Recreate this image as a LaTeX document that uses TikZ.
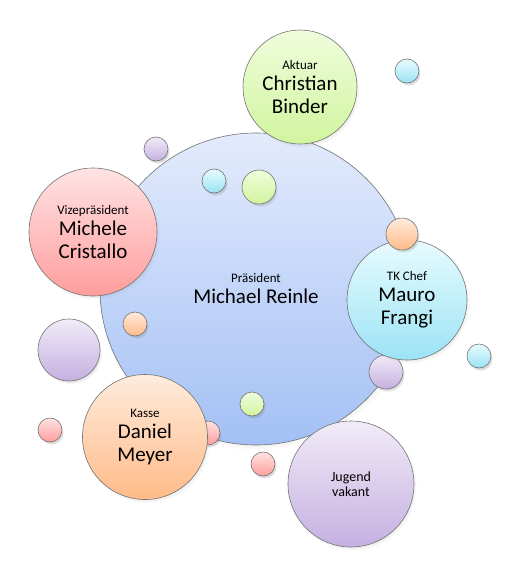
\documentclass[tikz,border=0pt]{standalone}
\usepackage{fontspec}
\setmainfont{Carlito}
\usetikzlibrary{positioning,shadows}
\usepackage{xcolor}

\definecolor{topblue}{HTML}{E3EBFC}   \definecolor{botblue}{HTML}{A3C0F5}
\definecolor{topgreen}{HTML}{EFFCDC}  \definecolor{botgreen}{HTML}{D1F59F}
\definecolor{topred}{HTML}{FFE3E3}    \definecolor{botred}{HTML}{FF9D9D}
\definecolor{topcyan}{HTML}{E8FBFE}   \definecolor{botcyan}{HTML}{9BE3F5}
\definecolor{toporange}{HTML}{FFEBDD} \definecolor{botorange}{HTML}{FFBB88}
\definecolor{toppurple}{HTML}{F1EBF8} \definecolor{botpurple}{HTML}{C5B0E0}

\newcommand{\rolefont}{\fontsize{13}{15}\selectfont}

\tikzset{
    bubble/.style={circle, inner sep=0pt, draw=black!55, line width=0.6pt,
        align=center, font=\fontsize{21}{23}\selectfont,
        top color=top#1, bottom color=bot#1,
        circular drop shadow={shadow scale=1.02, shadow xshift=1.5pt,
            shadow yshift=-2.5pt, opacity=0.3}},
}

\begin{document}
\begin{tikzpicture}[x=1pt, y=-1pt]
        \useasboundingbox (0,0) rectangle (509,576);
        % centre
        \node[bubble=blue, minimum size=312] (praes) at (256,289)
            {{\rolefont Präsident}\\[-2pt]Michael Reinle};
        % small bubbles
        \foreach \n/\x/\y/\r/\c in {1/407/71/12/cyan, 2/156/149/12/purple,
                                    3/214/181/12/cyan, 4/259/187/17/green,
                                    5/135/324/12/orange, 6/69/350/31/purple,
                                    7/386/372/17/purple, 8/479/356/12/cyan,
                                    9/252/404/12/green, 10/50/430/12/red,
                                    11/208/433/12/red, 12/263/464/12/red}{
            \node[bubble=\c, minimum size=2*\r] (dot\n) at (\x,\y) {};
        }
        % members
        \node[bubble=green, minimum size=114] (aktuar) at (300,87)
            {{\rolefont Aktuar}\\[-2pt]Christian\\Binder};
        \node[bubble=red, minimum size=128] (vize) at (93,232)
            {{\rolefont Vizepräsident}\\[-2pt]Michele\\Cristallo};
        \node[bubble=cyan, minimum size=120] (tk) at (407,300)
            {{\rolefont TK Chef}\\[-2pt]Mauro\\Frangi};
        \node[bubble=orange, minimum size=125] (kasse) at (145,437)
            {{\rolefont Kasse}\\[-2pt]Daniel\\Meyer};
        \node[bubble=purple, minimum size=126, font=\fontsize{14}{15}\selectfont]
            (jugend) at (351,484) {Jugend\\vakant};
        \node[bubble=orange, minimum size=32] (dot13) at (402,234) {};
    \end{tikzpicture}
\end{document}
